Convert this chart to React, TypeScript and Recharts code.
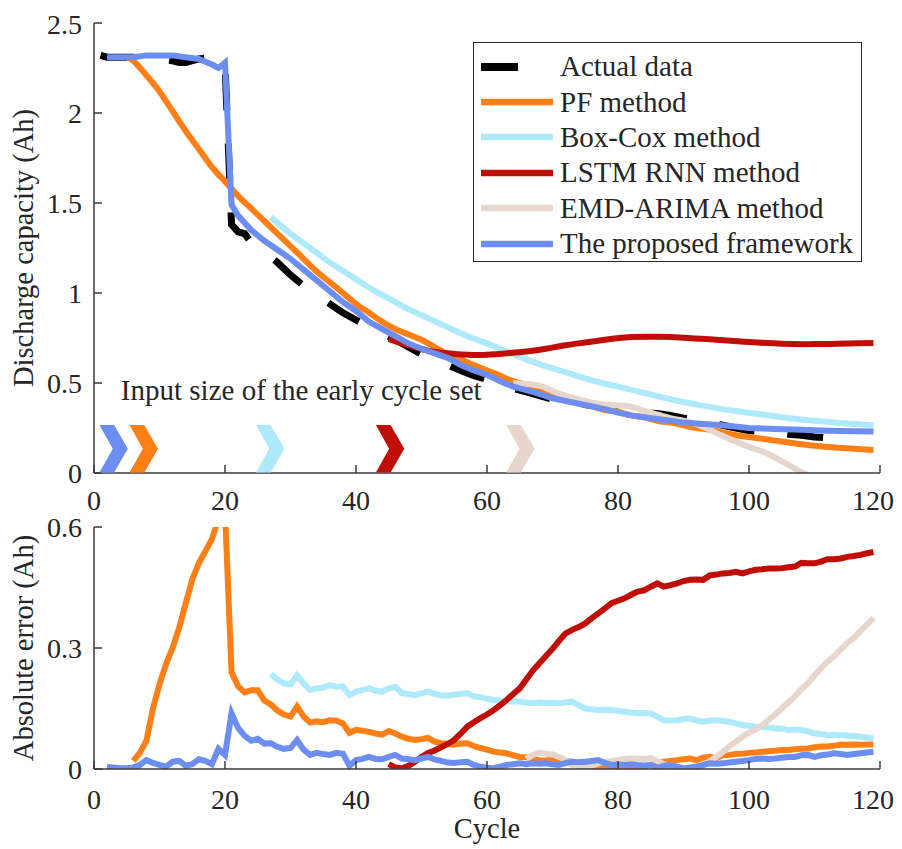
import React from 'react';
import { ComposedChart, Line, Scatter, XAxis, YAxis, Legend, ReferenceDot } from 'recharts';

const FONT = '"Liberation Serif", "Times New Roman", Times, serif';
const INK = '#262626';
const FRAME = '#3a3a3a';

const cycleTicks = [0, 20, 40, 60, 80, 100, 120];
const capacityTicks = [0, 0.5, 1, 1.5, 2, 2.5];
const errorTicks = [0, 0.3, 0.6];

// discharge capacity, [cycle, Ah]
const actualCapacity = [
  [1, 2.32], [2, 2.31], [4, 2.31], [6, 2.31], [8, 2.3], [10, 2.3], [12, 2.29], [13, 2.28], [14, 2.28],
  [16, 2.3], [18, 2.31], [19, 2.3], [20, 2.27], [21, 1.38], [22, 1.34], [23, 1.33], [24, 1.28], [26, 1.23],
  [28, 1.17], [30, 1.1], [32, 1.04], [34, 0.99], [36, 0.94], [38, 0.89], [40, 0.85], [42, 0.81], [44, 0.78],
  [46, 0.74], [48, 0.7], [50, 0.66], [52, 0.63], [54, 0.6], [56, 0.57], [58, 0.54], [60, 0.52], [62, 0.5],
  [64, 0.47], [66, 0.45], [68, 0.43], [70, 0.41], [72, 0.395], [74, 0.385], [76, 0.375], [78, 0.365],
  [80, 0.355], [82, 0.345], [84, 0.335], [86, 0.33], [88, 0.32], [90, 0.305], [92, 0.29], [94, 0.28],
  [96, 0.265], [98, 0.25], [100, 0.235], [102, 0.23], [104, 0.225], [106, 0.215], [108, 0.21], [110, 0.2],
  [112, 0.195], [114, 0.19], [116, 0.19],
];

const pfCapacity = [
  [5, 2.31], [6, 2.29], [8, 2.21], [10, 2.12], [12, 2.01], [14, 1.9], [16, 1.8], [18, 1.7], [20, 1.62],
  [22, 1.54], [24, 1.47], [26, 1.4], [28, 1.33], [30, 1.26], [32, 1.19], [34, 1.12], [36, 1.06], [38, 1.0],
  [40, 0.94], [42, 0.89], [44, 0.84], [46, 0.8], [48, 0.77], [50, 0.74], [52, 0.7], [54, 0.66], [56, 0.63],
  [58, 0.6], [60, 0.57], [62, 0.54], [64, 0.51], [66, 0.49], [68, 0.46], [70, 0.44], [72, 0.42], [74, 0.39],
  [76, 0.37], [78, 0.35], [80, 0.34], [82, 0.32], [84, 0.31], [86, 0.29], [88, 0.28], [90, 0.265], [92, 0.25],
  [94, 0.24], [96, 0.225], [98, 0.21], [100, 0.2], [104, 0.18], [108, 0.16], [112, 0.145], [116, 0.135], [119, 0.128],
];

const boxCoxCapacity = [
  [27, 1.42], [30, 1.33], [33, 1.25], [36, 1.17], [39, 1.1], [42, 1.03], [45, 0.97], [48, 0.91], [51, 0.86],
  [54, 0.81], [57, 0.76], [60, 0.72], [64, 0.66], [68, 0.605], [72, 0.56], [76, 0.515], [80, 0.48], [84, 0.445],
  [88, 0.41], [92, 0.38], [96, 0.355], [100, 0.335], [105, 0.31], [110, 0.29], [115, 0.275], [119, 0.265],
];

const lstmCapacity = [
  [45, 0.745], [47, 0.72], [49, 0.7], [51, 0.68], [54, 0.665], [57, 0.657], [60, 0.657], [63, 0.665],
  [66, 0.675], [69, 0.69], [72, 0.71], [75, 0.725], [78, 0.74], [82, 0.755], [86, 0.757], [90, 0.752],
  [95, 0.74], [100, 0.728], [105, 0.718], [110, 0.716], [115, 0.72], [119, 0.722],
];

// runs below zero at the end; the axis clips it
const emdCapacity = [
  [64, 0.5], [66, 0.495], [68, 0.485], [70, 0.455], [72, 0.43], [74, 0.41], [76, 0.39], [78, 0.38],
  [80, 0.375], [82, 0.368], [84, 0.345], [86, 0.325], [88, 0.305], [90, 0.29], [92, 0.27], [94, 0.24],
  [96, 0.205], [98, 0.175], [100, 0.145], [102, 0.12], [104, 0.085], [106, 0.045], [108, 0.005],
  [110, -0.03], [114, -0.11], [119, -0.19],
];

const proposedCapacity = [
  [2, 2.31], [4, 2.31], [6, 2.31], [8, 2.32], [10, 2.32], [12, 2.32], [14, 2.31], [16, 2.3], [18, 2.27],
  [19, 2.25], [20, 2.28], [21, 1.49], [22, 1.43], [24, 1.35], [26, 1.29], [28, 1.24], [30, 1.19], [32, 1.13],
  [34, 1.07], [36, 1.01], [38, 0.95], [40, 0.9], [42, 0.84], [44, 0.8], [46, 0.76], [48, 0.72], [50, 0.69],
  [52, 0.665], [54, 0.64], [56, 0.6], [58, 0.57], [60, 0.545], [62, 0.51], [64, 0.48], [66, 0.46], [68, 0.44],
  [70, 0.415], [72, 0.4], [74, 0.385], [76, 0.37], [78, 0.355], [80, 0.335], [82, 0.32], [84, 0.31], [86, 0.3],
  [88, 0.29], [90, 0.28], [92, 0.275], [96, 0.265], [100, 0.25], [104, 0.245], [108, 0.24], [112, 0.235],
  [116, 0.232], [119, 0.23],
];

// absolute error, one value per cycle from the start cycle on
const pfErrorStart = 6;
const pfError = [
  0.02, 0.04, 0.07, 0.15, 0.21, 0.26, 0.3, 0.35, 0.41, 0.47,
  0.51, 0.54, 0.57, 0.62, 0.64, 0.24, 0.205, 0.19, 0.195, 0.195,
  0.17, 0.16, 0.145, 0.135, 0.13, 0.155, 0.13, 0.115, 0.118, 0.116,
  0.121, 0.12, 0.113, 0.09, 0.097, 0.095, 0.092, 0.088, 0.085, 0.094,
  0.088, 0.08, 0.075, 0.072, 0.074, 0.077, 0.068, 0.064, 0.062, 0.06,
  0.063, 0.064, 0.057, 0.052, 0.048, 0.043, 0.041, 0.039, 0.034, 0.03,
  0.029, 0.025, 0.022, 0.021, 0.023, 0.022, 0.02, 0.018, 0.012, 0.007,
  0.005, 0.004, 0.002, 0.003, 0.001, 0.002, 0.004, 0.005, 0.006, 0.01,
  0.015, 0.018, 0.02, 0.022, 0.024, 0.026, 0.022, 0.028, 0.03, 0.027,
  0.034, 0.035, 0.037, 0.038, 0.04, 0.041, 0.043, 0.044, 0.045, 0.047,
  0.047, 0.049, 0.05, 0.051, 0.054, 0.056, 0.056, 0.058, 0.06, 0.06,
  0.061, 0.06, 0.061, 0.061,
];

const boxCoxErrorStart = 27;
const boxCoxError = [
  0.235, 0.222, 0.212, 0.21, 0.232, 0.212, 0.196, 0.2, 0.202, 0.208,
  0.204, 0.205, 0.183, 0.192, 0.196, 0.2, 0.194, 0.192, 0.2, 0.204,
  0.188, 0.186, 0.183, 0.188, 0.192, 0.186, 0.183, 0.182, 0.184, 0.186,
  0.188, 0.18, 0.178, 0.174, 0.171, 0.17, 0.167, 0.168, 0.167, 0.165,
  0.163, 0.165, 0.163, 0.164, 0.163, 0.165, 0.167, 0.158, 0.15, 0.148,
  0.146, 0.147, 0.146, 0.144, 0.142, 0.14, 0.138, 0.139, 0.138, 0.13,
  0.121, 0.12, 0.121, 0.124, 0.125, 0.12, 0.117, 0.12, 0.121, 0.119,
  0.117, 0.113, 0.109, 0.107, 0.105, 0.104, 0.103, 0.101, 0.1, 0.097,
  0.098, 0.097, 0.093, 0.088, 0.087, 0.084, 0.085, 0.084, 0.083, 0.082,
  0.08, 0.078, 0.076,
];

const lstmErrorStart = 45;
const lstmError = [
  0.012, 0.004, 0.002, 0.008, 0.018, 0.03, 0.04, 0.046, 0.054, 0.062,
  0.072, 0.088, 0.105, 0.116, 0.126, 0.135, 0.146, 0.158, 0.171, 0.186,
  0.2, 0.222, 0.244, 0.262, 0.28, 0.298, 0.318, 0.336, 0.345, 0.352,
  0.361, 0.374, 0.386, 0.398, 0.411, 0.417, 0.423, 0.432, 0.44, 0.443,
  0.452, 0.46, 0.452, 0.456, 0.46, 0.466, 0.469, 0.47, 0.469, 0.48,
  0.482, 0.485, 0.486, 0.489, 0.485, 0.49, 0.494, 0.495, 0.497, 0.497,
  0.498, 0.5, 0.502, 0.511, 0.51, 0.51, 0.514, 0.52, 0.52, 0.522,
  0.526, 0.528, 0.531, 0.535, 0.538,
];

const emdErrorStart = 66;
const emdError = [
  0.025, 0.035, 0.04, 0.038, 0.036, 0.03, 0.022, 0.01, 0.003, 0.002,
  0.008, 0.014, 0.018, 0.02, 0.022, 0.025, 0.026, 0.026, 0.025, 0.027,
  0.02, 0.012, 0.006, 0.001, 0, 0.001, 0.004, 0.01, 0.02, 0.03,
  0.042, 0.056, 0.068, 0.08, 0.09, 0.098, 0.108, 0.122, 0.135, 0.15,
  0.165, 0.18, 0.198, 0.212, 0.232, 0.25, 0.266, 0.28, 0.296, 0.312,
  0.325, 0.342, 0.358, 0.374,
];

const proposedErrorStart = 2;
const proposedError = [
  0.005, 0.004, 0.002, 0.002, 0.004, 0.01, 0.022, 0.015, 0.01, 0.006,
  0.018, 0.02, 0.008, 0.012, 0.024, 0.02, 0.012, 0.05, 0.035, 0.138,
  0.102, 0.082, 0.07, 0.075, 0.063, 0.064, 0.055, 0.05, 0.052, 0.072,
  0.048, 0.035, 0.04, 0.037, 0.035, 0.04, 0.038, 0.008, 0.022, 0.025,
  0.03, 0.025, 0.024, 0.03, 0.035, 0.026, 0.024, 0.022, 0.026, 0.03,
  0.024, 0.02, 0.016, 0.015, 0.017, 0.018, 0.01, 0.006, 0.003, 0.002,
  0.006, 0.01, 0.012, 0.014, 0.012, 0.014, 0.013, 0.014, 0.012, 0.01,
  0.015, 0.018, 0.017, 0.018, 0.02, 0.022, 0.015, 0.01, 0.011, 0.01,
  0.012, 0.01, 0.009, 0.01, 0.003, 0.008, 0.01, 0.006, 0.002, 0.004,
  0.006, 0.01, 0.014, 0.013, 0.014, 0.016, 0.018, 0.02, 0.022, 0.025,
  0.026, 0.025, 0.026, 0.028, 0.03, 0.03, 0.034, 0.035, 0.03, 0.034,
  0.036, 0.039, 0.037, 0.035, 0.037, 0.039, 0.041, 0.043,
];

// cycle at which each method's early set ends (chevron markers)
const inputCycles = [3, 7.6, 26.9, 45.2, 65.1];

const COLORS = {
  actual: '#000000',
  pf: '#ff7f17',
  boxCox: '#aeeafb',
  lstm: '#c00e06',
  emd: '#e7d6cd',
  proposed: '#6c8ef0',
};
const chevronColors = [COLORS.proposed, COLORS.pf, COLORS.boxCox, COLORS.lstm, COLORS.emd];

const legendItems = [
  { name: 'Actual data', color: COLORS.actual, dashed: true },
  { name: 'PF method', color: COLORS.pf },
  { name: 'Box-Cox method', color: COLORS.boxCox },
  { name: 'LSTM RNN method', color: COLORS.lstm },
  { name: 'EMD-ARIMA method', color: COLORS.emd },
  { name: 'The proposed framework', color: COLORS.proposed },
];

const pairs = (arr: number[][]) => arr.map(([x, y]) => ({ x, y }));
const fromStart = (start: number, arr: number[]) => arr.map((y, i) => ({ x: start + i, y }));

const tickStyle = { fontSize: 28, fontFamily: FONT, fill: INK };
const frame = { stroke: FRAME, strokeWidth: 1.5 };
const labelStyle = { textAnchor: 'middle' as const, fontSize: 28.5, fontFamily: FONT, fill: INK };

const CHEVRON_LEVEL = 0.135;

function Chevron(props: any) {
  const { cx, cy, payload } = props;
  if (cx == null || cy == null) return null;
  const hw = 14.2;
  const hh = 23.7;
  const arm = 14.7;
  const l = cx - hw;
  const pts = [
    [l, cy - hh], [l + arm, cy - hh], [cx + hw, cy],
    [l + arm, cy + hh], [l, cy + hh], [l + arm - 1.4, cy],
  ];
  return <polygon points={pts.map((p) => p.join(',')).join(' ')} fill={chevronColors[payload.i]} />;
}

function LegendBox() {
  return (
    <div
      style={{
        width: 389,
        height: 220,
        boxSizing: 'border-box',
        border: `1.2px solid ${INK}`,
        background: '#fff',
        paddingTop: 6,
        fontFamily: FONT,
        fontSize: 29,
        color: INK,
      }}
    >
      {legendItems.map((it) => (
        <div key={it.name} style={{ height: 35.4, display: 'flex', alignItems: 'center' }}>
          <svg width={79} height={12} style={{ marginLeft: 7, flex: 'none' }}>
            <line
              x1={0}
              y1={6}
              x2={72}
              y2={6}
              stroke={it.color}
              strokeWidth={it.dashed ? 8 : 6.5}
              strokeDasharray={it.dashed ? '37 40' : undefined}
            />
          </svg>
          <span style={{ whiteSpace: 'nowrap', lineHeight: 1 }}>{it.name}</span>
        </div>
      ))}
    </div>
  );
}

const chevronData = inputCycles.map((x, i) => ({ x, y: CHEVRON_LEVEL, i }));

export default function App() {
  const lineProps = { dot: false, isAnimationActive: false, dataKey: 'y', activeDot: false } as const;

  return (
    <div style={{ position: 'relative', width: 886, height: 841 }}>
      {/* capacity panel */}
      <div style={{ position: 'absolute', left: 0, top: 0 }}>
        <ComposedChart width={886} height={520} margin={{ top: 15, right: 14, left: 0, bottom: 0 }}>
          <XAxis
            dataKey="x"
            type="number"
            domain={[0, 120]}
            ticks={cycleTicks}
            allowDataOverflow
            height={55}
            tick={tickStyle}
            tickSize={-8}
            tickMargin={25}
            axisLine={frame}
            tickLine={frame}
          />
          <XAxis
            xAxisId="top"
            orientation="top"
            type="number"
            domain={[0, 120]}
            ticks={cycleTicks}
            height={0}
            tick={false}
            tickSize={-8}
            axisLine={frame}
            tickLine={frame}
          />
          <YAxis
            type="number"
            domain={[0, 2.5]}
            ticks={capacityTicks}
            allowDataOverflow
            width={86}
            tick={tickStyle}
            tickSize={-8}
            tickMargin={20}
            axisLine={frame}
            tickLine={frame}
            label={{ value: 'Discharge capacity (Ah)', angle: -90, position: 'insideLeft', offset: 15, style: labelStyle }}
          />
          <YAxis
            yAxisId="right"
            orientation="right"
            type="number"
            domain={[0, 2.5]}
            ticks={capacityTicks}
            width={0}
            tick={false}
            tickSize={-8}
            axisLine={frame}
            tickLine={frame}
          />
          <Line {...lineProps} data={pairs(actualCapacity)} type="linear" stroke={COLORS.actual} strokeWidth={7} strokeDasharray="36 33" />
          <Line {...lineProps} data={pairs(pfCapacity)} type="natural" stroke={COLORS.pf} strokeWidth={6} />
          <Line {...lineProps} data={pairs(boxCoxCapacity)} type="natural" stroke={COLORS.boxCox} strokeWidth={6} />
          <Line {...lineProps} data={pairs(lstmCapacity)} type="natural" stroke={COLORS.lstm} strokeWidth={6} />
          <Line {...lineProps} data={pairs(emdCapacity)} type="natural" stroke={COLORS.emd} strokeWidth={6} />
          <Line {...lineProps} data={pairs(proposedCapacity)} type="linear" stroke={COLORS.proposed} strokeWidth={6} />
          <Scatter data={chevronData} dataKey="y" shape={<Chevron />} isAnimationActive={false} />
          <ReferenceDot
            x={4.1}
            y={0.461}
            r={0}
            stroke="none"
            label={{ value: 'Input size of the early cycle set', position: 'right', offset: 0, style: { fontSize: 29, fontFamily: FONT, fill: INK } }}
          />
          <Legend
            layout="horizontal"
            verticalAlign="middle"
            align="center"
            content={() => <LegendBox />}
            wrapperStyle={{ left: 465, top: 34, width: 389, height: 220 }}
          />
        </ComposedChart>
      </div>

      {/* absolute error panel */}
      <div style={{ position: 'absolute', left: 0, top: 495 }}>
        <ComposedChart width={886} height={346} margin={{ top: 24, right: 14, left: 0, bottom: 0 }}>
          <XAxis
            dataKey="x"
            type="number"
            domain={[0, 120]}
            ticks={cycleTicks}
            allowDataOverflow
            height={80}
            tick={tickStyle}
            tickSize={-8}
            tickMargin={28}
            axisLine={frame}
            tickLine={frame}
            label={{ value: 'Cycle', position: 'insideBottom', offset: 11, style: labelStyle }}
          />
          <XAxis
            xAxisId="top"
            orientation="top"
            type="number"
            domain={[0, 120]}
            ticks={cycleTicks}
            height={0}
            tick={false}
            tickSize={-8}
            axisLine={frame}
            tickLine={frame}
          />
          <YAxis
            type="number"
            domain={[0, 0.6]}
            ticks={errorTicks}
            allowDataOverflow
            width={86}
            tick={tickStyle}
            tickSize={-8}
            tickMargin={20}
            axisLine={frame}
            tickLine={frame}
            label={{ value: 'Absolute error (Ah)', angle: -90, position: 'insideLeft', offset: 15, style: labelStyle }}
          />
          <YAxis
            yAxisId="right"
            orientation="right"
            type="number"
            domain={[0, 0.6]}
            ticks={errorTicks}
            width={0}
            tick={false}
            tickSize={-8}
            axisLine={frame}
            tickLine={frame}
          />
          <Line {...lineProps} data={fromStart(pfErrorStart, pfError)} type="linear" stroke={COLORS.pf} strokeWidth={6} />
          <Line {...lineProps} data={fromStart(boxCoxErrorStart, boxCoxError)} type="linear" stroke={COLORS.boxCox} strokeWidth={6} />
          <Line {...lineProps} data={fromStart(lstmErrorStart, lstmError)} type="linear" stroke={COLORS.lstm} strokeWidth={6} />
          <Line {...lineProps} data={fromStart(emdErrorStart, emdError)} type="linear" stroke={COLORS.emd} strokeWidth={6} />
          <Line {...lineProps} data={fromStart(proposedErrorStart, proposedError)} type="linear" stroke={COLORS.proposed} strokeWidth={6} />
        </ComposedChart>
      </div>
    </div>
  );
}
